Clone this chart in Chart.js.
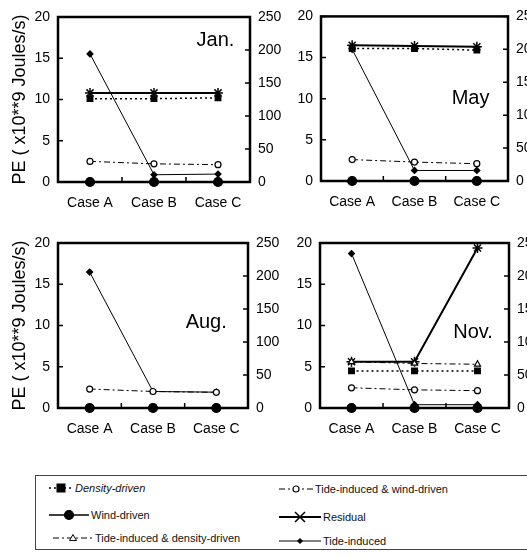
<!DOCTYPE html>
<html>
<head>
<meta charset="utf-8">
<script src="https://cdn.jsdelivr.net/npm/chart.js@4.4.1/dist/chart.umd.min.js"></script>
<style>
body { margin: 0; width: 527px; height: 557px; overflow: hidden; background: #fff; position: relative; font-family: "Liberation Sans", Arial, sans-serif; }
canvas { position: absolute; }
#legend { position: absolute; left: 35px; top: 475px; width: 500px; height: 73px; border: 1px solid #444; border-right: none; }
.item { position: absolute; font-size: 11px; display: flex; align-items: center; white-space: nowrap; color: #111; height: 12px; }
.item svg { margin-right: 2px; }
</style>
</head>
<body>
<canvas id="c0" width="300" height="218" style="left:0px;top:0px"></canvas>
<canvas id="c1" width="300" height="218" style="left:262px;top:0px"></canvas>
<canvas id="c2" width="300" height="218" style="left:0px;top:226px"></canvas>
<canvas id="c3" width="300" height="218" style="left:262px;top:226px"></canvas>
<div id="legend"></div>
<script>
const cases = ['Case A', 'Case B', 'Case C'];
const months = ['Jan.', 'May', 'Aug.', 'Nov.'];

// one row per month (Jan, May, Aug, Nov), PE in x10**9 Joules/s, left axis
const densityDriven = [[10.1, 10.1, 10.2], [16.1, 16.1, 15.9], [0, 0, 0], [4.5, 4.5, 4.5]];
const windDriven = [[0, 0, 0], [0, 0, 0], [0, 0, 0], [0, 0, 0]];
const tideDensity = [[null, null, null], [null, null, null], [null, null, null], [5.6, 5.4, 5.3]];
const tideWind = [[2.5, 2.2, 2.1], [2.6, 2.3, 2.1], [2.3, 2.0, 1.9], [2.45, 2.2, 2.1]];
const residual = [[10.8, 10.8, 10.8], [16.5, 16.4, 16.3], [null, null, null], [5.6, 5.6, 19.4]];
// right axis (0-250)
const tideInduced = [[194, 11, 12], [200, 16, 16], [206, 25, 24], [234, 5, 5]];

const leftTicks = [0, 5, 10, 15, 20];
const rightTicks = [0, 50, 100, 150, 200, 250];

const FONT = '"Liberation Sans", Arial, sans-serif';

const series = [
    { label: 'Density-driven', data: densityDriven, dash: [2, 3], width: 1.5, point: 'rect', radius: 4, fill: true },
    { label: 'Wind-driven', data: windDriven, dash: [], width: 1.5, point: 'circle', radius: 4.5, fill: true },
    { label: 'Tide-induced & density-driven', data: tideDensity, dash: [6, 3, 2, 3], width: 1, point: 'triangle', radius: 3.5, fill: false },
    { label: 'Tide-induced & wind-driven', data: tideWind, dash: [6, 3, 2, 3], width: 1, point: 'circle', radius: 3, fill: false },
    { label: 'Residual', data: residual, dash: [], width: 2, point: 'star', radius: 5, fill: false },
    { label: 'Tide-induced', data: tideInduced, dash: [], width: 1, point: 'rectRot', radius: 3, fill: true, right: true }
];

// chart area placement for each panel (layout only)
const panels = [
    { left: 58, right: 50, top: 17, bottom: 36, title: true, mx: 0.82, my: 0.14 },
    { left: 59, right: 54, top: 15, bottom: 37, title: false, mx: 0.80, my: 0.50 },
    { left: 58, right: 52, top: 17, bottom: 36, title: true, mx: 0.78, my: 0.48 },
    { left: 58, right: 53, top: 17, bottom: 36, title: false, mx: 0.81, my: 0.545 }
];

const framePlugin = {
    id: 'frame',
    afterDraw(chart, args, opts) {
        const { ctx, chartArea: a, scales } = chart;
        ctx.save();
        ctx.strokeStyle = '#000';
        ctx.lineWidth = 1.5;
        ctx.beginPath();
        leftTicks.forEach(v => {
            const py = scales.y.getPixelForValue(v);
            ctx.moveTo(a.left, py); ctx.lineTo(a.left + 5, py);
        });
        rightTicks.forEach(v => {
            const py = scales.y1.getPixelForValue(v);
            ctx.moveTo(a.right - 5, py); ctx.lineTo(a.right, py);
        });
        for (let i = 0; i < cases.length - 1; i++) {
            const px = (scales.x.getPixelForValue(i) + scales.x.getPixelForValue(i + 1)) / 2;
            ctx.moveTo(px, a.bottom); ctx.lineTo(px, a.bottom - 5);
        }
        ctx.stroke();
        ctx.lineWidth = 2.5;
        ctx.strokeRect(a.left, a.top, a.width, a.height);
        ctx.fillStyle = '#000';
        ctx.font = '20px ' + FONT;
        ctx.textAlign = 'center';
        ctx.textBaseline = 'middle';
        ctx.fillText(opts.text, a.left + a.width * opts.mx, a.top + a.height * opts.my);
        ctx.restore();
    }
};

function makePanel(i) {
    const p = panels[i];
    const datasets = series.map(s => ({
        label: s.label,
        data: s.data[i],
        yAxisID: s.right ? 'y1' : 'y',
        borderColor: '#000',
        backgroundColor: s.fill ? '#000' : '#fff',
        borderWidth: s.width,
        borderDash: s.dash,
        pointStyle: s.point,
        pointRadius: s.radius,
        pointBorderWidth: s.point === 'star' ? 1.5 : 1.2,
        pointBackgroundColor: s.fill ? '#000' : '#fff',
        pointBorderColor: '#000',
        tension: 0,
        clip: false,
        spanGaps: false
    }));

    new Chart(document.getElementById('c' + i), {
        type: 'line',
        data: { labels: cases, datasets: datasets },
        options: {
            responsive: false,
            animation: false,
            layout: { padding: { top: p.top } },
            plugins: {
                legend: { display: false },
                tooltip: { enabled: false },
                frame: { text: months[i], mx: p.mx, my: p.my }
            },
            scales: {
                x: {
                    offset: true,
                    grid: { display: false, drawTicks: false },
                    border: { display: false },
                    ticks: { color: '#000', font: { family: FONT, size: 14 }, padding: 13, maxRotation: 0 },
                    afterFit(scale) { scale.height = p.bottom; }
                },
                y: {
                    position: 'left',
                    min: 0, max: 20,
                    grid: { display: false, drawTicks: false },
                    border: { display: false },
                    ticks: { stepSize: 5, color: '#000', font: { family: FONT, size: 14 }, padding: 8 },
                    title: {
                        display: p.title,
                        text: 'PE ( x10**9 Joules/s)',
                        color: '#000',
                        font: { family: FONT, size: 18 },
                        padding: { top: 9, bottom: 0 }
                    },
                    afterFit(scale) { scale.width = p.left; }
                },
                y1: {
                    position: 'right',
                    min: 0, max: 250,
                    grid: { display: false, drawTicks: false },
                    border: { display: false },
                    ticks: { stepSize: 50, color: '#000', font: { family: FONT, size: 14 }, padding: 8 },
                    afterFit(scale) { scale.width = p.right; }
                }
            }
        },
        plugins: [framePlugin]
    });
}

months.forEach((m, i) => makePanel(i));

// legend
const legendPos = [
    { x: 13, y: 12, w: 24 },
    { x: 13, y: 39, w: 40 },
    { x: 17, y: 62, w: 40 },
    { x: 243, y: 13, w: 34 },
    { x: 243, y: 41, w: 42 },
    { x: 243, y: 65, w: 42 }
];

function markerSvg(s, cx, cy) {
    const fill = s.fill ? '#000' : '#fff';
    const r = s.radius;
    if (s.point === 'rect') return `<rect x="${cx - r}" y="${cy - r}" width="${2 * r}" height="${2 * r}" fill="${fill}" stroke="#000"/>`;
    if (s.point === 'circle') return `<circle cx="${cx}" cy="${cy}" r="${r}" fill="${fill}" stroke="#000" stroke-width="1.2"/>`;
    if (s.point === 'triangle') return `<polygon points="${cx},${cy - r} ${cx - r},${cy + r * 0.7} ${cx + r},${cy + r * 0.7}" fill="${fill}" stroke="#000"/>`;
    if (s.point === 'rectRot') return `<polygon points="${cx},${cy - r} ${cx + r},${cy} ${cx},${cy + r} ${cx - r},${cy}" fill="#000"/>`;
    return `<path d="M${cx - r},${cy - r}L${cx + r},${cy + r}M${cx - r},${cy + r}L${cx + r},${cy - r}M${cx - r},${cy}L${cx + r},${cy}" stroke="#000" stroke-width="1.5"/>`;
}

const legendEl = document.getElementById('legend');
series.forEach((s, k) => {
    const pos = legendPos[k];
    const item = document.createElement('div');
    item.className = 'item';
    item.style.left = pos.x + 'px';
    item.style.top = (pos.y - 6) + 'px';
    const h = 12;
    const svg = `<svg width="${pos.w}" height="${h}"><line x1="0" y1="${h / 2}" x2="${pos.w}" y2="${h / 2}" stroke="#000" stroke-width="${s.width}" stroke-dasharray="${s.dash.join(',')}"/>${markerSvg(s, pos.w / 2, h / 2)}</svg>`;
    const style = k === 0 ? 'font-style:italic' : '';
    item.innerHTML = svg + `<span style="${style}">${s.label}</span>`;
    legendEl.appendChild(item);
});
</script>
</body>
</html>
